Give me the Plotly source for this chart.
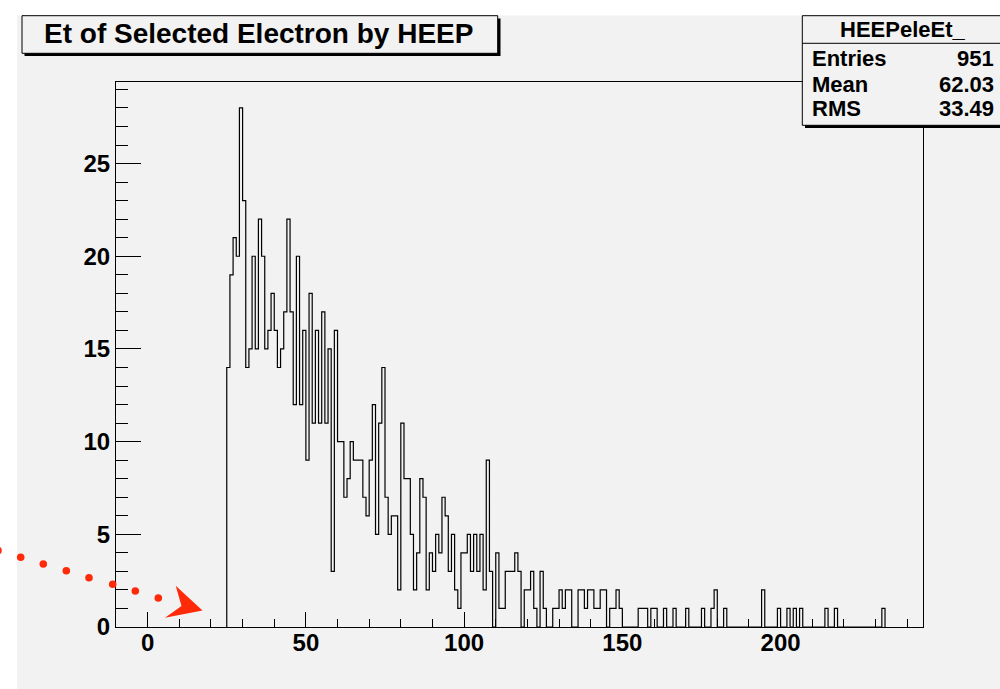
import numpy as np
import plotly.graph_objects as go

# ---------------- data ----------------
hist_name = "HEEPeleEt_"
title_text = "Et of Selected Electron by HEEP"
first_bin_low = 25
bin_width = 1
counts = [14, 19, 21, 20, 28, 23, 14, 15, 20, 15,   # 25-34
          22, 20, 15, 16, 18, 16, 14, 15, 17, 22,   # 35-44
          17, 12, 20, 12, 16, 9, 18, 11, 16, 11,    # 45-54
          17, 11, 15, 3, 16, 10, 10, 7, 8, 10,      # 55-64
          9, 9, 9, 7, 6, 9, 12, 5, 11, 14,          # 65-74
          7, 5, 6, 6, 2, 11, 8, 8, 5, 2,            # 75-84
          4, 8, 7, 2, 4, 3, 5, 4, 7, 6,             # 85-94
          3, 5, 2, 1, 4, 4, 5, 3, 5, 3,             # 95-104
          5, 2, 9, 3, 0, 4, 1, 1, 3, 3,             # 105-114
          3, 4, 3, 0, 2, 2, 3, 1, 0, 3,             # 115-124
          1, 0, 0, 1, 1, 2, 1, 2, 2, 0,             # 125-134
          0, 2, 2, 1, 2, 2, 1, 1, 2, 2,             # 135-144
          0, 1, 1, 2, 1, 0, 0, 0, 0, 0,             # 145-154
          1, 1, 1, 0, 1, 1, 0, 0, 1, 0,             # 155-164
          0, 1, 0, 0, 0, 1, 0, 0, 0, 0,             # 165-174
          1, 0, 0, 1, 2, 0, 0, 1, 0, 0,             # 175-184
          0, 0, 0, 0, 0, 0, 0, 0, 0, 2,             # 185-194
          0, 0, 0, 0, 1, 0, 0, 1, 0, 1,             # 195-204
          0, 1, 0, 0, 0, 0, 0, 0, 0, 1,             # 205-214
          0, 0, 1, 0, 0, 0, 0, 0, 0, 0,             # 215-224
          0, 0, 0, 0, 0, 0, 0, 1]                   # 225-232
x_range = [-10, 245]
y_range = [0, 29.4]
x_ticks = [0, 50, 100, 150, 200]
y_ticks = [0, 5, 10, 15, 20, 25]
stat_labels = ["Entries", "Mean", "RMS"]
stat_values = ["951", "62.03", "33.49"]

# ---------------- build step outline ----------------
edges = first_bin_low + bin_width * np.arange(len(counts) + 1)
xs = np.concatenate([[edges[0]], edges])
ys = np.concatenate([[0], counts, [0]])

W, H = 1000, 689
L, R, T, B = 116, 77, 82, 62
PW, PH = W - L - R, H - T - B


def px(x):
    return (x - L) / PW


def py(y):
    return (H - B - y) / PH


GRAY = "#f2f2f2"
RED = "#ff2a0a"
FONT = "Liberation Sans, Arial, Helvetica, sans-serif"

fig = go.Figure()
fig.add_trace(go.Scatter(x=xs, y=ys, mode="lines",
                         line=dict(shape="hv", color="black", width=1.2),
                         hoverinfo="skip", showlegend=False))

shapes = []
# canvas
shapes.append(dict(type="rect", xref="paper", yref="paper",
                   x0=px(17), x1=px(1010), y0=py(15.5), y1=py(700),
                   fillcolor=GRAY, line=dict(width=0), layer="below"))
# title box with shadow
shapes.append(dict(type="rect", xref="paper", yref="paper",
                   x0=px(24.5), x1=px(500.5), y0=py(18.5), y1=py(56),
                   fillcolor="black", line=dict(width=0), layer="above"))
shapes.append(dict(type="rect", xref="paper", yref="paper",
                   x0=px(22), x1=px(497.7), y0=py(15.7), y1=py(53.3),
                   fillcolor=GRAY, line=dict(color="black", width=1), layer="above"))
# stats box with shadow
shapes.append(dict(type="rect", xref="paper", yref="paper",
                   x0=px(805), x1=px(1012), y0=py(18.5), y1=py(128),
                   fillcolor="black", line=dict(width=0), layer="above"))
shapes.append(dict(type="rect", xref="paper", yref="paper",
                   x0=px(802.3), x1=px(1010), y0=py(15.7), y1=py(125.3),
                   fillcolor=GRAY, line=dict(color="black", width=1), layer="above"))
shapes.append(dict(type="line", xref="paper", yref="paper",
                   x0=px(802.3), x1=px(1010), y0=py(43.3), y1=py(43.3),
                   line=dict(color="black", width=1), layer="above"))
# red dotted arrow (decoration)
dot_px = [(-2, 550.5), (20.7, 557.3), (43.3, 564), (66.3, 570.7), (89, 577.7),
          (112.7, 584.3), (135.3, 591), (158.3, 598)]
r = 3.8
for cx, cy in dot_px:
    shapes.append(dict(type="circle", xref="paper", yref="paper",
                       x0=px(cx - r), x1=px(cx + r), y0=py(cy - r), y1=py(cy + r),
                       fillcolor=RED, line=dict(width=0), layer="above"))
head = [(175.7, 585.7), (202.5, 610.5), (165, 617.7), (181.5, 606)]
path = "M " + " L ".join(f"{px(a):.5f},{py(b):.5f}" for a, b in head) + " Z"
shapes.append(dict(type="path", xref="paper", yref="paper", path=path,
                   fillcolor=RED, line=dict(width=0), layer="above"))

annotations = [
    dict(text=f"<b>{title_text}</b>", xref="paper", yref="paper",
         x=px(258), y=py(33.5), xanchor="center", yanchor="middle", showarrow=False,
         font=dict(family=FONT, size=28, color="black")),
    dict(text=f"<b>{hist_name}</b>", xref="paper", yref="paper",
         x=px(902), y=py(29.5), xanchor="center", yanchor="middle", showarrow=False,
         font=dict(family=FONT, size=22, color="black")),
]
row_y = [58, 85, 108.5]
for lab, val, yy in zip(stat_labels, stat_values, row_y):
    annotations.append(dict(text=f"<b>{lab}</b>", xref="paper", yref="paper",
                            x=px(809.5), y=py(yy), xanchor="left", yanchor="middle",
                            showarrow=False, font=dict(family=FONT, size=22, color="black")))
    annotations.append(dict(text=f"<b>{val}</b>", xref="paper", yref="paper",
                            x=px(996), y=py(yy), xanchor="right", yanchor="middle",
                            showarrow=False, font=dict(family=FONT, size=22, color="black")))

tickfont = dict(family=FONT, size=24, color="black", weight="bold")

fig.update_layout(
    width=W, height=H,
    margin=dict(l=L, r=R, t=T, b=B, pad=0),
    paper_bgcolor="white", plot_bgcolor=GRAY,
    shapes=shapes, annotations=annotations,
    showlegend=False,
    xaxis=dict(range=x_range, tickvals=x_ticks, ticks="inside", ticklen=15,
               tickwidth=1.2, tickcolor="black", showgrid=False, zeroline=False,
               showline=True, mirror=True, linecolor="black", linewidth=1.2,
               tickfont=tickfont, ticklabelstandoff=-6,
               minor=dict(dtick=10, tick0=0, ticks="inside", ticklen=8,
                          tickwidth=1.2, tickcolor="black", showgrid=False)),
    yaxis=dict(range=y_range, tickvals=y_ticks, ticks="inside", ticklen=25,
               tickwidth=1.2, tickcolor="black", showgrid=False, zeroline=False,
               showline=True, mirror=True, linecolor="black", linewidth=1.2,
               tickfont=tickfont, ticklabelstandoff=0,
               minor=dict(dtick=1, tick0=0, ticks="inside", ticklen=12,
                          tickwidth=1.2, tickcolor="black", showgrid=False)),
)

fig.write_html("out.html")
